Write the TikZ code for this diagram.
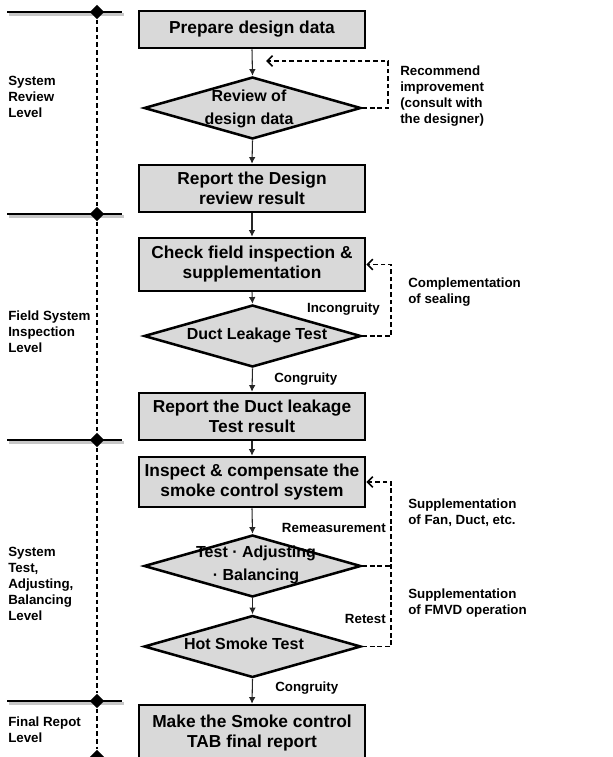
\documentclass[tikz,border=0pt]{standalone}
\usepackage{fontspec}
\setmainfont{Liberation Sans}
\usetikzlibrary{shapes.geometric,arrows.meta}
\definecolor{boxgray}{HTML}{D9D9D9}
\begin{document}
\begin{tikzpicture}[x=0.75pt,y=-0.75pt,
  procbox/.style={draw=black, line width=1.9pt, fill=boxgray, minimum width=226*0.75pt, align=center, inner sep=0pt, font=\bfseries\fontsize{13}{15}\selectfont},
  decbox/.style={draw=black, line width=1.9pt, fill=boxgray, shape=diamond, minimum width=217*0.75pt, minimum height=62*0.75pt, inner sep=0pt},
  dectext/.style={align=center, inner sep=0pt, font=\bfseries\fontsize{12}{17}\selectfont},
  flow/.style={draw=black!85, line width=0.8pt, -{Latex[length=5pt,width=5pt]}},
  fb/.style={draw=black, line width=1.3pt, dash pattern=on 3.5pt off 2.2pt},
  fbarrow/.style={fb, -{Straight Barb[length=4pt,width=8pt]}},
  lbl/.style={align=left, inner sep=0pt, font=\bfseries\fontsize{10}{12}\selectfont},
  levline/.style={line width=1.6pt},
  levshadow/.style={line width=2.2pt, black!22},
  marker/.style={shape=diamond, fill=black, minimum width=11pt, minimum height=11pt, inner sep=0pt},
  ]
\useasboundingbox (0,0) rectangle (612,757);

% level lines
\foreach \yy in {12,214,440,701} {
  \draw[levshadow] (9,\yy+2.8) -- (124,\yy+2.8);
  \draw[levline] (7,\yy) -- (122,\yy);
}
\node[marker] (m1) at (97,12) {};
\node[marker] (m2) at (97,214) {};
\node[marker] (m3) at (97,440) {};
\node[marker] (m4) at (97,701) {};
\node[marker] (m5) at (97,757) {};
\draw[fb] (m1) -- (m2);
\draw[fb] (m2) -- (m3);
\draw[fb] (m3) -- (m4);
\draw[fb] (m4) -- (m5);

% left labels
\node[lbl, anchor=west] (l1) at (8,97) {System\\Review\\Level};
\node[lbl, anchor=west] (l2) at (8,332) {Field System\\Inspection\\Level};
\node[lbl, anchor=west] (l3) at (8,584) {System\\Test,\\Adjusting,\\Balancing\\Level};
\node[lbl, anchor=west] (l4) at (8,730) {Final Repot\\Level};

% main flow
\node[procbox, minimum height=37*0.75pt] (b1) at (252,29.5) {Prepare design data};
\node[decbox] (d1) at (252.5,108) {};
\node[dectext] (t1) at (249,109) {Review of\\design data};
\node[procbox, minimum height=47*0.75pt] (b2) at (252,188.5) {Report the Design\\review result};
\node[procbox, minimum height=53*0.75pt] (b3) at (252,264.5) {Check field inspection \&\\supplementation};
\node[decbox] (d2) at (252.5,336) {};
\node[dectext] (t2) at (257,335) {Duct Leakage Test};
\node[procbox, minimum height=47*0.75pt] (b4) at (252,416.5) {Report the Duct leakage\\Test result};
\node[procbox, minimum height=50*0.75pt] (b5) at (252,482) {Inspect \& compensate the\\smoke control system};
\node[decbox] (d3) at (252.5,566) {};
\node[dectext] (t3) at (256,565) {Test · Adjusting\\· Balancing};
\node[decbox] (d4) at (252.5,646.5) {};
\node[dectext] (t4) at (244,644) {Hot Smoke Test};
\node[procbox, minimum height=56*0.75pt] (b6) at (252,733) {Make the Smoke control\\TAB final report};

\draw[flow] (b1.south) -- (d1.north);
\draw[flow] (d1.south) -- (b2.north);
\draw[flow] (b2.south) -- (b3.north);
\draw[flow] (b3.south) -- (d2.north);
\draw[flow] (d2.south) -- (b4.north);
\draw[flow] (b4.south) -- (b5.north);
\draw[flow] (b5.south) -- (d3.north);
\draw[flow] (d3.south) -- (d4.north);
\draw[flow] (d4.south) -- (b6.north);

% feedback loops
\coordinate (fb1) at (266,61);
\draw[fbarrow] (d1.east) -- ++(26,0) |- (fb1);
\draw[fbarrow] (d2.east) -- ++(29,0) |- (b3.east);
\draw[fbarrow] (d4.east) -- ++(29,0) |- (b5.east);
\draw[fb] (d3.east) -- ++(29,0);

% loop labels
\node[lbl, anchor=west] (r1) at (400,96.5) {Recommend\\improvement\\(consult with\\the designer)};
\node[lbl, anchor=west] (r2) at (408,292.5) {Complementation\\of sealing};
\node[lbl, anchor=west] (r3) at (408,513) {Supplementation\\of Fan, Duct, etc.};
\node[lbl, anchor=west] (r4) at (408,603) {Supplementation\\of FMVD operation};

\node[lbl, anchor=east] (c1) at (380,309) {Incongruity};
\node[lbl, anchor=east] (c2) at (386,528) {Remeasurement};
\node[lbl, anchor=east] (c3) at (386,619) {Retest};
\node[lbl, anchor=west] (c4) at (274,379) {Congruity};
\node[lbl, anchor=west] (c5) at (275,688) {Congruity};
\end{tikzpicture}
\end{document}
